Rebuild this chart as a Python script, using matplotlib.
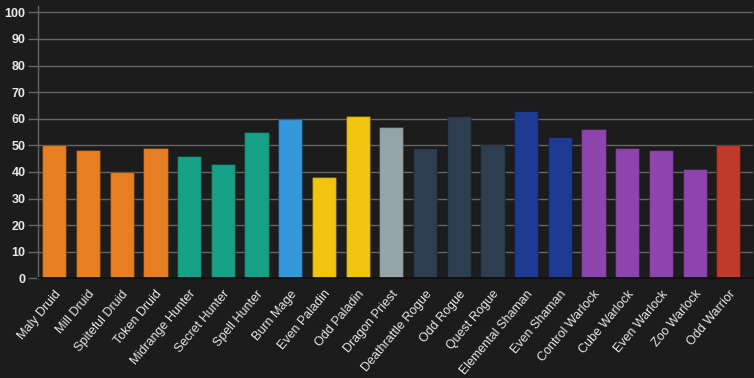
import matplotlib
matplotlib.use("Agg")
import matplotlib.pyplot as plt
import numpy as np

decks = ["Maly Druid", "Mill Druid", "Spiteful Druid", "Token Druid",
         "Midrange Hunter", "Secret Hunter", "Spell Hunter", "Burn Mage",
         "Even Paladin", "Odd Paladin", "Dragon Priest", "Deathrattle Rogue",
         "Odd Rogue", "Quest Rogue", "Elemental Shaman", "Even Shaman",
         "Control Warlock", "Cube Warlock", "Even Warlock", "Zoo Warlock",
         "Odd Warrior"]
winrates = [50, 48.2, 40, 49, 46, 43, 55, 60, 38, 61, 57, 49, 61, 50, 63, 53,
            56, 49, 48.2, 41, 50]
colors = ["#e67e22"] * 4 + ["#16a085"] * 3 + ["#3498db"] + ["#f1c40f"] * 2 + \
         ["#95a5a6"] + ["#2c3e50"] * 3 + ["#1f3a93"] * 2 + ["#8e44ad"] * 4 + ["#c0392b"]
yticks = list(range(0, 101, 10))

bg = "#1c1c1c"
W, H = 754, 378
fig = plt.figure(figsize=(W / 100, H / 100), dpi=100, facecolor=bg)
left, right, bottom, top = 37.5, 753, 278.3, 6
ax = fig.add_axes([left / W, 1 - bottom / H, (right - left) / W, (bottom - top) / H])
ax.set_facecolor(bg)

x = np.arange(len(decks))
ax.bar(x, winrates, width=0.72, color=colors, edgecolor="#00000040",
       linewidth=1, zorder=3)

slot = 33.7
ax.set_xlim(-0.5, -0.5 + (right - left) / slot)
ppu = (bottom - 12.3) / 100
ax.set_ylim(0, (bottom - top) / ppu)

ax.set_yticks(yticks)
ax.set_yticklabels([str(t) for t in yticks], fontfamily="Liberation Sans",
                   fontweight="bold", fontsize=9, color="#e8e8e8")
ax.tick_params(axis="y", length=7, width=1, color="#666666", pad=1.5)
ax.yaxis.grid(True, color="#666666", linewidth=1, zorder=0)
ax.set_xticks(x)
ax.set_xticklabels(decks, rotation=50, ha="right", rotation_mode="anchor",
                   fontfamily="Liberation Sans", fontsize=9, color="#e8e8e8")
ax.tick_params(axis="x", length=0, pad=7)

for s in ["top", "right"]:
    ax.spines[s].set_visible(False)
ax.spines["left"].set_color("#666666")
ax.spines["left"].set_linewidth(1)
ax.spines["bottom"].set_color("#0e0e0e")
ax.spines["bottom"].set_linewidth(1.2)
ax.spines["bottom"].set_zorder(4)

fig.savefig("out.png", dpi=100, facecolor=bg)
